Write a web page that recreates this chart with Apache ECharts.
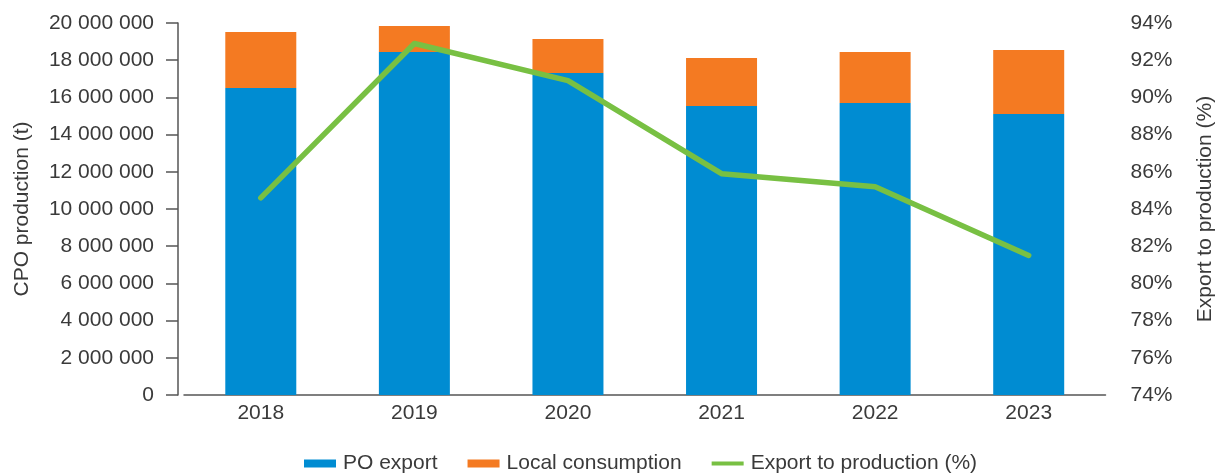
<!DOCTYPE html>
<html>
<head>
<meta charset="utf-8">
<script src="https://cdn.jsdelivr.net/npm/echarts@6/dist/echarts.min.js"></script>
<style>
  html, body { margin: 0; padding: 0; background: #fff; overflow: hidden; }
  #chart { width: 1220px; height: 474px; }
</style>
</head>
<body>
<div id="chart"></div>
<script>
// CPO production split into export and local use, with export share (%)
const years = ['2018', '2019', '2020', '2021', '2022', '2023'];
const poExport = [16510000, 18440000, 17310000, 15540000, 15700000, 15110000];
const localConsumption = [3010000, 1400000, 1830000, 2580000, 2740000, 3440000];
const exportShare = [84.6, 92.9, 90.9, 85.9, 85.2, 81.5];

const FONT = '"Liberation Sans", Arial, sans-serif';
const TEXT = '#3a3a3a';
const SIZE = 21;

function groupThousands(v) {
  return String(v).replace(/\B(?=(\d{3})+(?!\d))/g, ' ');
}

// thin horizontal stroke for the line entry in the legend
const LINE_ICON = 'path://M0,2H32V6H0Z M0,0H0.01V0.01H0Z M0,7.99H0.01V8H0Z';

const chart = echarts.init(document.getElementById('chart'), null, { renderer: 'canvas' });
chart.setOption({
  animation: false,
  textStyle: { fontFamily: FONT, color: TEXT },
  grid: {
    left: 184, right: 114.5, top: 23, bottom: 79,
    containLabel: false,
    outerBoundsMode: 'none'
  },
  legend: {
    left: 299,
    top: 448,
    itemGap: 30,
    itemWidth: 32,
    itemHeight: 8,
    textStyle: { fontFamily: FONT, fontSize: SIZE, color: TEXT, padding: [0, 0, 0, 2] },
    data: [
      { name: 'PO export', icon: 'rect' },
      { name: 'Local consumption', icon: 'rect' },
      { name: 'Export to production (%)', icon: LINE_ICON }
    ]
  },
  xAxis: {
    type: 'category',
    data: years,
    axisLine: { lineStyle: { color: '#555', width: 1.5 } },
    axisTick: { show: false },
    axisLabel: { fontFamily: FONT, fontSize: SIZE, color: TEXT, margin: 8 }
  },
  yAxis: [
    {
      type: 'value',
      min: 0,
      max: 20000000,
      interval: 2000000,
      offset: 6,
      name: 'CPO production (t)',
      nameLocation: 'middle',
      nameRotate: 90,
      nameGap: 145,
      nameTextStyle: { fontFamily: FONT, fontSize: SIZE, color: TEXT },
      axisLine: { show: true, lineStyle: { color: '#555', width: 1.5 } },
      axisTick: { show: true, inside: false, length: 12, lineStyle: { color: '#555', width: 1.5 } },
      splitLine: { show: false },
      axisLabel: { fontFamily: FONT, fontSize: SIZE, color: TEXT, margin: 24, formatter: groupThousands }
    },
    {
      type: 'value',
      min: 74,
      max: 94,
      interval: 2,
      name: 'Export to production (%)',
      nameLocation: 'middle',
      nameRotate: 90,
      nameGap: 89,
      nameTextStyle: { fontFamily: FONT, fontSize: SIZE, color: TEXT },
      axisLine: { show: false },
      axisTick: { show: false },
      splitLine: { show: false },
      axisLabel: { fontFamily: FONT, fontSize: SIZE, color: TEXT, margin: 25, formatter: '{value}%' }
    }
  ],
  series: [
    {
      name: 'PO export',
      type: 'bar',
      stack: 'cpo',
      barWidth: 71,
      itemStyle: { color: '#008CD2' },
      data: poExport
    },
    {
      name: 'Local consumption',
      type: 'bar',
      stack: 'cpo',
      barWidth: 71,
      itemStyle: { color: '#F47A22' },
      data: localConsumption
    },
    {
      name: 'Export to production (%)',
      type: 'line',
      yAxisIndex: 1,
      symbol: 'none',
      lineStyle: { color: '#78C043', width: 5.5, cap: 'round', join: 'round' },
      itemStyle: { color: '#78C043' },
      data: exportShare
    }
  ]
});
</script>
</body>
</html>
